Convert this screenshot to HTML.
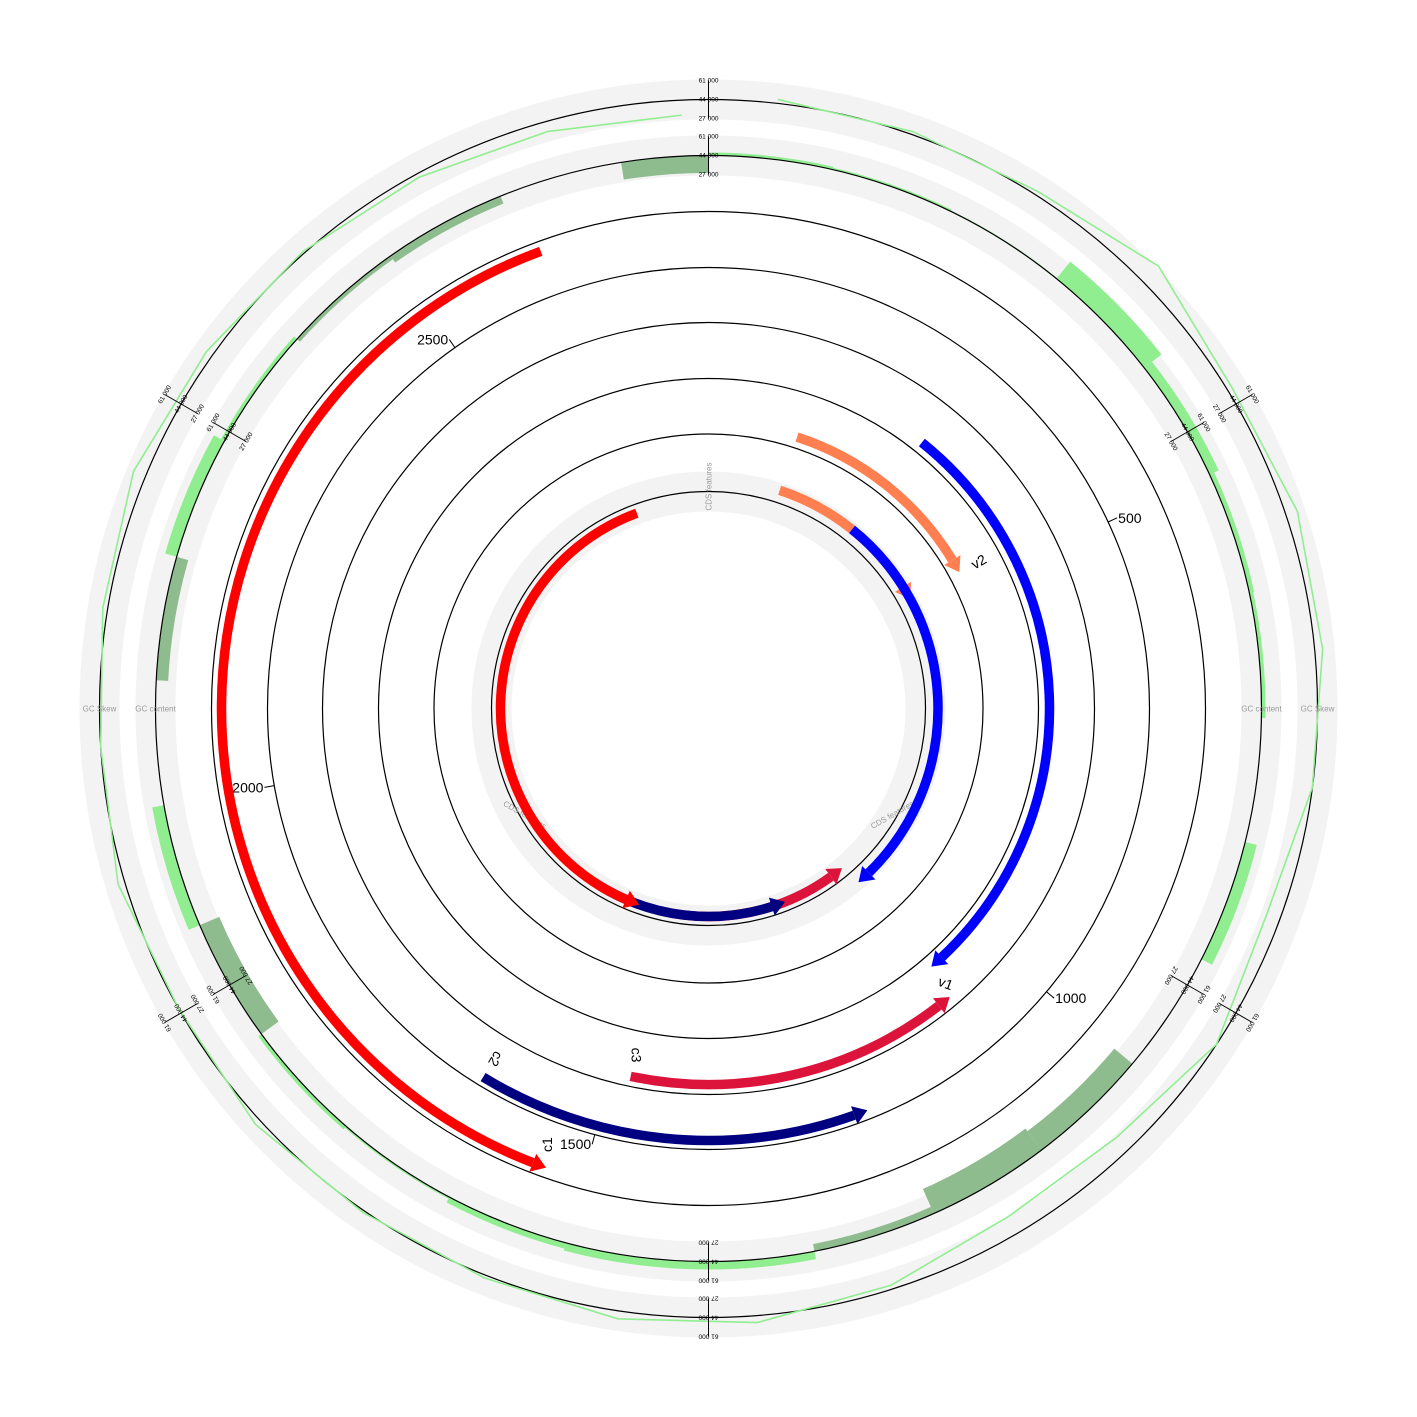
<!DOCTYPE html>
<html><head><meta charset="utf-8"><style>
html,body{margin:0;padding:0;background:#fff;}
svg{display:block;font-family:"Liberation Sans",sans-serif;}
</style></head><body>
<svg id="chart" width="1417" height="1417" viewBox="0 0 1417 1417" xmlns="http://www.w3.org/2000/svg"></svg>
<script>
// ---- data ----
const genomeLength = 2770;
const featureNames = ["c1","c2","c3","v1","v2"];
const featureStarts = [1535,1219,1078,298,139];
const featureEnds = [2615,1627,1477,1071,473];
const featureStrands = [-1,-1,-1,1,1];
const featureColors = ["#ff0000","#000080","#dc143c","#0000ff","#ff7f50"];
const gcWindow = 100;
const gcContentValues = [46685,45790,44895,63690,52950,48475,47580,44000,54740,44000,23000,20000,37500,51160,51160,49370,45790,47580,25000,54740,44000,33260,54740,47580,40420,36840,44000,28500];
const gcSkewValues = [47580,46685,47580,63690,48475,54740,51160,44000,31470,44000,28785,26995,40420,50265,51160,46685,45790,49370,44000,50265,44000,48475,55635,50265,45790,40420,35050,30575];
const scaleLabels = ["61 000","44 000","27 000"];
const axisTicks = [500,1000,1500,2000,2500];

// ---- geometry ----
const NS="http://www.w3.org/2000/svg";
const svg=document.getElementById('chart');
const cx=708.5, cy=708.5;
const skewR=609, gcR=553, bandHalf=19;
const trackR=[497,441,386,330,274.5];
const innerR=217;
const angle=bp=>bp/genomeLength*360;
const rad=a=>a*Math.PI/180;
const pt=(a,r)=>[cx+r*Math.sin(rad(a)), cy-r*Math.cos(rad(a))];
const valR=(base,v)=>base+(v-44000)/17000*bandHalf;
function mk(tag,attrs,parent){const e=document.createElementNS(NS,tag);for(const k in attrs)e.setAttribute(k,attrs[k]);(parent||svg).appendChild(e);return e;}
function arcD(a0,a1,r){const p0=pt(a0,r),p1=pt(a1,r);const large=Math.abs(a1-a0)>180?1:0;const sw=a1>a0?1:0;return `M${p0[0]},${p0[1]} A${r},${r} 0 ${large} ${sw} ${p1[0]},${p1[1]}`;}
function sectorD(a0,a1,r0,r1){const p0=pt(a0,r0),p1=pt(a1,r0),p2=pt(a1,r1),p3=pt(a0,r1);const l=Math.abs(a1-a0)>180?1:0;return `M${p0[0]},${p0[1]} A${r0},${r0} 0 ${l} 1 ${p1[0]},${p1[1]} L${p2[0]},${p2[1]} A${r1},${r1} 0 ${l} 0 ${p3[0]},${p3[1]} Z`;}

// gray bands
const bands=[[skewR,'gc-skew-band'],[gcR,'gc-content-band'],[innerR,'cds-features-band']];
bands.forEach(b=>{const c=mk('circle',{cx,cy,r:b[0],fill:'none',stroke:'#f3f3f3','stroke-width':40});

});

// GC content bars
gcContentValues.forEach((v,k)=>{
  const a0=angle(k*gcWindow), a1=angle(Math.min((k+1)*gcWindow,genomeLength));
  const r1=valR(gcR,v);
  if(Math.abs(r1-gcR)<0.3) return;
  const p=mk('path',{d:sectorD(a0,a1,Math.min(gcR,r1),Math.max(gcR,r1)),fill:v>=44000?'#90ee90':'#8fbc8f'});
  
  
});

// circles
[skewR,gcR,...trackR,innerR].forEach(r=>{const c=mk('circle',{cx,cy,r,fill:'none',stroke:'#000','stroke-width':1.2});

});

// GC skew line
const pts=gcSkewValues.map((v,k)=>pt(angle(k*gcWindow+gcWindow/2),valR(skewR,v)).join(',')).join(' ');
const sk=mk('polyline',{points:pts,fill:'none',stroke:'#90ee90','stroke-width':1.6});



// scale ticks on GC rings
[skewR,gcR].forEach(R=>{for(let a=0;a<360;a+=60){
  const g=mk('g',{transform:`translate(${cx},${cy}) rotate(${a})`});
  
  
  mk('line',{x1:0,y1:-(R-bandHalf),x2:0,y2:-(R+bandHalf),stroke:'#000','stroke-width':1},g);
  [R+bandHalf,R,R-bandHalf].forEach((rr,i)=>{const t=mk('text',{x:0,y:-rr+2,'font-size':6.5,'text-anchor':'middle',fill:'#000'},g);t.textContent=scaleLabels[i];
  
  });
}});

// ring labels
function ringLabel(txt,a,r,rot){const p=pt(a,r);const t=mk('text',{x:p[0],y:p[1]+3,'font-size':8,'text-anchor':'middle',fill:'#999',transform:rot?`rotate(${rot} ${p[0]} ${p[1]})`:''});t.textContent=txt;

}
ringLabel('GC Skew',270,skewR,0);ringLabel('GC Skew',90,skewR,0);
ringLabel('GC content',270,gcR,0);ringLabel('GC content',90,gcR,0);
ringLabel('CDS features',0,innerR+5,-90);ringLabel('CDS features',240,innerR-5,30);ringLabel('CDS features',120,innerR-5,-30);

// features
function drawFeature(i,r,parentName){
  const s=angle(featureStarts[i]), e=angle(featureEnds[i]), st=featureStrands[i];
  const hl=14/r*180/Math.PI;
  let a0,a1,tip;
  if(st>0){a0=s;a1=e-hl;tip=e;}else{a0=e;a1=s+hl;tip=s;}
  const g=mk('g',{});
  
  
  const lo=Math.min(a0,a1), hi=Math.max(a0,a1);
  mk('path',{d:arcD(lo,hi,r),fill:'none',stroke:featureColors[i],'stroke-width':9.5},g);
  const base=a1;
  const b1=pt(base,r-9.5),b2=pt(base,r+9.5),t=pt(tip,r);
  mk('polygon',{points:`${b1.join(',')} ${t.join(',')} ${b2.join(',')}`,fill:featureColors[i]},g);
}
const trackOffset=[-10,-9,-10,11,11];
featureNames.forEach((n,i)=>drawFeature(i,trackR[i]+trackOffset[i],'feature'));
// inner combined ring
[4,3,2,1,0].forEach(i=>drawFeature(i,innerR+(featureStrands[i]>0?12.5:-9),'cds-feature'));

// feature labels
const labelRot=[-90,120,90,20,-30];
featureNames.forEach((n,i)=>{
  const st=featureStrands[i];
  const a=st>0?angle(featureEnds[i]):(i===0?angle(featureStarts[i])+0.8:angle(featureEnds[i])-0.2);
  const r=trackR[i]+trackOffset[i]+(st>0?22:-22);
  const p=pt(a,r);
  const t=mk('text',{x:p[0],y:p[1]+5,'font-size':14,'text-anchor':'middle',fill:'#000',transform:`rotate(${labelRot[i]} ${p[0]} ${p[1]})`});
  t.textContent=n;
  
  
});

// axis ticks
axisTicks.forEach(v=>{
  const a=angle(v);const p0=pt(a,trackR[1]),p1=pt(a,trackR[1]+10);
  const l=mk('line',{x1:p0[0],y1:p0[1],x2:p1[0],y2:p1[1],stroke:'#000','stroke-width':1});
  
  
  const right=a<180;
  const t=mk('text',{x:p1[0]+(right?1:-1),y:p1[1]+5,'font-size':14,'text-anchor':right?'start':'end',fill:'#000'});
  t.textContent=String(v);
  
  
});
</script>
</body></html>
